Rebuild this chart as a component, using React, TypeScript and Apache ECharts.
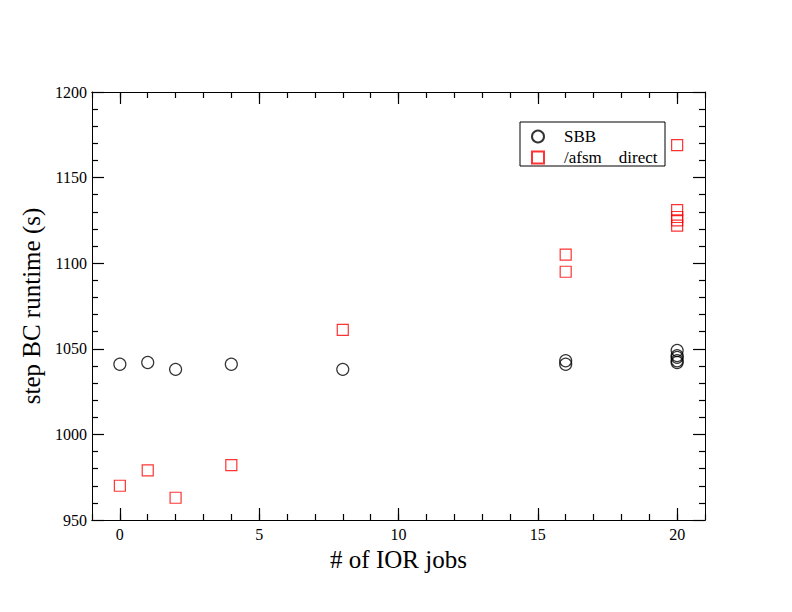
import React, { useEffect, useRef } from "react";
import * as echarts from "echarts";

const sbbX = [0, 1, 2, 4, 8, 16, 16, 20, 20, 20, 20, 20];
const sbbY = [1041, 1042, 1038, 1041, 1038, 1041, 1043, 1049, 1046, 1045, 1043, 1042];
const afsmX = [0, 1, 2, 4, 8, 16, 16, 20, 20, 20, 20, 20];
const afsmY = [970, 979, 963, 982, 1061, 1105, 1095, 1169, 1131, 1127, 1125, 1122];
const xMajorTicks = [0, 5, 10, 15, 20];
const xMinorTicks = [-1, 0, 1, 2, 3, 4, 5, 6, 7, 8, 9, 10, 11, 12, 13, 14, 15, 16, 17, 18, 19, 20, 21];
const seriesNames = ["SBB", "/afsm    direct"];

const FONT = "Liberation Serif";

export default function App() {
  const ref = useRef<HTMLDivElement>(null);
  useEffect(() => {
    if (!ref.current) return;
    const chart = echarts.init(ref.current, undefined, { renderer: "svg" });
    const baseX = (position: string, ticks: number[], len: number, labels: boolean, name?: string) => ({
      type: "value",
      gridIndex: 0,
      position,
      min: -1,
      max: 21,
      name: name,
      nameLocation: "middle",
      nameGap: 17,
      nameTextStyle: { fontFamily: FONT, fontSize: 25, color: "#000" },
      axisLine: { show: true, onZero: false, lineStyle: { color: "#000", width: 1 } },
      axisTick: { show: true, inside: true, length: len, customValues: ticks, lineStyle: { color: "#000", width: 1.2 } },
      axisLabel: labels
        ? { show: true, customValues: xMajorTicks, fontFamily: FONT, fontSize: 16, color: "#000", margin: 6 }
        : { show: false },
      splitLine: { show: false },
    });
    const baseY = (position: string, labels: boolean, name?: string) => ({
      type: "value",
      gridIndex: 0,
      position,
      min: 950,
      max: 1200,
      interval: 50,
      name: name,
      nameLocation: "middle",
      nameGap: 30,
      nameTextStyle: { fontFamily: FONT, fontSize: 25, color: "#000" },
      axisLine: { show: true, onZero: false, lineStyle: { color: "#000", width: 1 } },
      axisTick: { show: true, inside: true, length: 12, lineStyle: { color: "#000", width: 1.2 } },
      minorTick: { show: true, splitNumber: 5, length: 6, lineStyle: { color: "#000", width: 1.2 } },
      axisLabel: labels
        ? { show: true, fontFamily: FONT, fontSize: 16, color: "#000", margin: 5, formatter: (v: number) => String(v) }
        : { show: false },
      splitLine: { show: false },
      minorSplitLine: { show: false },
    });
    chart.setOption({
      animation: false,
      backgroundColor: "#fff",
      grid: { left: 92, right: 87, top: 92, bottom: 92, containLabel: false },
      xAxis: [
        baseX("bottom", xMajorTicks, 12, true, "# of IOR jobs"),
        baseX("bottom", xMinorTicks, 6, false),
        baseX("top", xMajorTicks, 12, false),
        baseX("top", xMinorTicks, 6, false),
      ],
      yAxis: [baseY("left", true, "step BC runtime (s)"), baseY("right", false)],
      legend: {
        orient: "vertical",
        left: 531,
        top: 128,
        padding: 0,
        itemWidth: 12,
        itemHeight: 12,
        itemGap: 4,
        data: seriesNames,
        textStyle: { fontFamily: FONT, fontSize: 17, color: "#000", padding: [0, 0, 0, 15] },
      },
      graphic: [
        {
          type: "rect",
          shape: { x: 520, y: 122, width: 145, height: 44 },
          style: { fill: "none", stroke: "#000", lineWidth: 1 },
          z: 1,
        },
      ],
      series: [
        {
          name: seriesNames[0],
          type: "scatter",
          xAxisIndex: 0,
          yAxisIndex: 0,
          symbol: "circle",
          symbolSize: 12,
          itemStyle: { color: "rgba(0,0,0,0)", borderColor: "#000", borderWidth: 1.2 },
          data: sbbX.map((x, i) => [x, sbbY[i]]),
        },
        {
          name: seriesNames[1],
          type: "scatter",
          xAxisIndex: 0,
          yAxisIndex: 0,
          symbol: "rect",
          symbolSize: 11,
          itemStyle: { color: "rgba(0,0,0,0)", borderColor: "#ff0000", borderWidth: 1.2 },
          data: afsmX.map((x, i) => [x, afsmY[i]]),
        },
      ],
    });
    return () => chart.dispose();
  }, []);
  return <div ref={ref} style={{ width: 792, height: 612, position: "absolute", left: 0, top: 0 }} />;
}
